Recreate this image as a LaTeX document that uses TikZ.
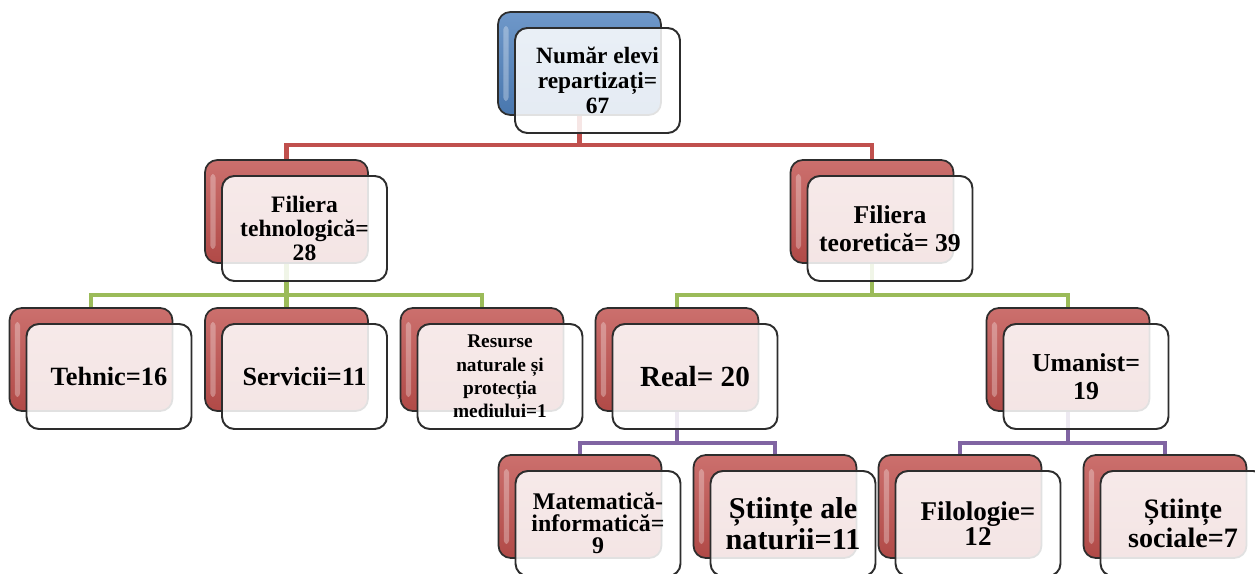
\documentclass[tikz,border=0pt]{standalone}
\usepackage{fontspec}
\setmainfont{Liberation Serif}[BoldFont={Liberation Serif Bold}]
\newfontfamily\tnr{Liberation Serif}[BoldFont={Liberation Serif Bold}]
\usetikzlibrary{backgrounds}

\definecolor{rosu}{RGB}{192,80,77}
\definecolor{verde}{RGB}{155,187,89}
\definecolor{mov}{RGB}{128,100,162}
\definecolor{albastru}{RGB}{79,129,189}
\definecolor{contur}{RGB}{45,45,45}

\begin{document}
\begin{tikzpicture}[x=0.02cm, y=-0.02cm,
    spate/.style={draw=contur, line width=1pt, rounded corners=7pt,
      minimum width=3.26cm, minimum height=2.06cm,
      top color=#1!82!white, bottom color=#1!92!black,
      path picture={\fill[white, opacity=0.3, rounded corners=2pt]
        ([xshift=3pt, yshift=-8pt]path picture bounding box.north west) rectangle
        ([xshift=6pt, yshift=8pt]path picture bounding box.south west);}},
    fata/.style={draw=contur, line width=1.1pt, rounded corners=7pt,
      minimum width=3.3cm, minimum height=2.1cm, fill=white,
      fill opacity=0.86, text opacity=1, align=center, inner sep=2pt},
    fs/.style 2 args={font=\tnr\fontsize{#1}{#2}\selectfont\bfseries},
    linie/.style={draw=#1, line width=2.8pt}]

    \clip (0,0) rectangle (1255,574);

    % Nivelul 1
    \node[spate=albastru] (rad) at (579.5,63.5) {};
    \node[fata, fs={13.3}{14.3}] (radf) at (597.5,80.5) {Număr elevi\\repartizați=\\67};

    % Nivelul 2 (filiere)
    \node[spate=rosu] (teh) at (286.5,211.5) {};
    \node[fata, fs={13.4}{13.8}] (tehf) at (304.5,228.5) {Filiera\\tehnologică=\\28};
    \node[spate=rosu] (teo) at (872,211.5) {};
    \node[fata, fs={14.6}{16}] (teof) at (890,228.5) {Filiera\\teoretică= 39};

    % Nivelul 3 (profiluri)
    \node[spate=rosu] (tehn) at (91,359.5) {};
    \node[fata, fs={15}{16}] (tehnf) at (109,376.5) {Tehnic=16};
    \node[spate=rosu] (serv) at (286.5,359.5) {};
    \node[fata, fs={14.9}{16}] (servf) at (304.5,376.5) {Servicii=11};
    \node[spate=rosu] (res) at (482,359.5) {};
    \node[fata, fs={11}{13.2}] (resf) at (500,376.5) {Resurse\\naturale și\\protecția\\mediului=1};
    \node[spate=rosu] (real) at (677,359.5) {};
    \node[fata, fs={16.6}{17}] (realf) at (695,376.5) {Real= 20};
    \node[spate=rosu] (uman) at (1068,359.5) {};
    \node[fata, fs={14.7}{15.8}] (umanf) at (1086,376.5) {Umanist=\\19};

    % Nivelul 4 (specializari)
    \node[spate=rosu] (mat) at (580,506.5) {};
    \node[fata, fs={13.6}{12.6}] (matf) at (598,523.5) {Matematică-\\informatică=\\9};
    \node[spate=rosu] (nat) at (775,506.5) {};
    \node[fata, fs={17.2}{15.4}] (natf) at (793,523.5) {Științe ale\\naturii=11};
    \node[spate=rosu] (filo) at (960,506.5) {};
    \node[fata, fs={15.4}{13.2}] (filof) at (978,523.5) {Filologie=\\12};
    \node[spate=rosu] (soc) at (1165,506.5) {};
    \node[fata, fs={16}{14.4}] (socf) at (1183,523.5) {Științe\\sociale=7};

    % Legaturi
    \begin{scope}[on background layer]
        \coordinate (b1) at (579.5,145);
        \draw[linie=rosu] (rad.south) -- (b1) -| (teh.north);
        \draw[linie=rosu] (b1) -| (teo.north);

        \coordinate (b2) at (286.5,295);
        \draw[linie=verde] (teh.south) -- (b2) -| (tehn.north);
        \draw[linie=verde] (b2) -- (serv.north);
        \draw[linie=verde] (b2) -| (res.north);

        \coordinate (b3) at (872,295);
        \draw[linie=verde] (teo.south) -- (b3) -| (real.north);
        \draw[linie=verde] (b3) -| (uman.north);

        \coordinate (b4) at (677,443);
        \draw[linie=mov] (real.south) -- (b4) -| (mat.north);
        \draw[linie=mov] (b4) -| (nat.north);

        \coordinate (b5) at (1068,443);
        \draw[linie=mov] (uman.south) -- (b5) -| (filo.north);
        \draw[linie=mov] (b5) -| (soc.north);
    \end{scope}
\end{tikzpicture}
\end{document}
